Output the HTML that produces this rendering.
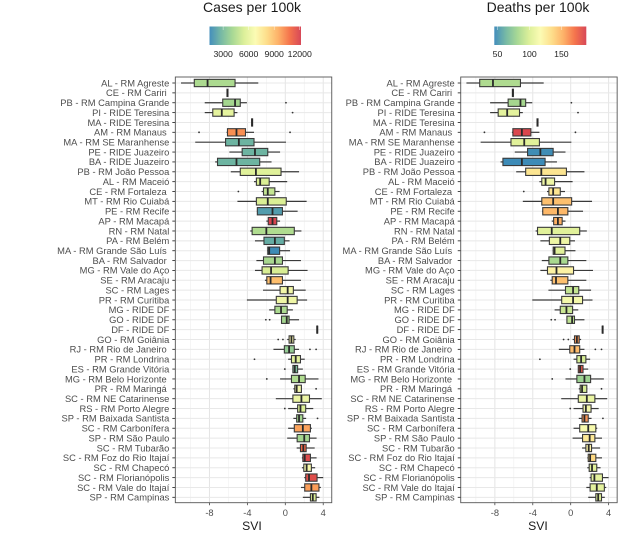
<!DOCTYPE html>
<html>
<head>
<meta charset="utf-8">
<style>
html,body{margin:0;padding:0;background:#fff;}
#chart{display:block;filter:blur(0.35px);}
text{font-family:"Liberation Sans",sans-serif;white-space:pre;}
</style>
</head>
<body>
<svg id="chart" xmlns="http://www.w3.org/2000/svg" width="630" height="536" viewBox="0 0 630 536"></svg>
<script>
const categories = ["AL - RM Agreste","CE - RM Cariri ","PB - RM Campina Grande","PI - RIDE Teresina","MA - RIDE Teresina","AM - RM Manaus ","MA - RM SE Maranhense","PE - RIDE Juazeiro","BA - RIDE Juazeiro","PB - RM João Pessoa","AL - RM Maceió","CE - RM Fortaleza ","MT - RM Rio Cuiabá","PE - RM Recife","AP - RM Macapá","RN - RM Natal","PA - RM Belém","MA - RM Grande São Luís ","BA - RM Salvador ","MG - RM Vale do Aço","SE - RM Aracaju","SC - RM Lages","PR - RM Curitiba","MG - RIDE DF","GO - RIDE DF","DF - RIDE DF","GO - RM Goiânia","RJ - RM Rio de Janeiro ","PR - RM Londrina","ES - RM Grande Vitória","MG - RM Belo Horizonte ","PR - RM Maringá ","SC - RM NE Catarinense","RS - RM Porto Alegre","SP - RM Baixada Santista","SC - RM Carbonífera","SP - RM São Paulo","SC - RM Tubarão","SC - RM Foz do Rio Itajaí","SC - RM Chapecó","SC - RM Florianópolis","SC - RM Vale do Itajaí","SP - RM Campinas"];
const whiskerLow = [-11,-6.15,-8.5,-8.5,-3.55,-6.2,-9.5,-5.9,-7.4,-5.75,-3.3,-2.5,-5.05,-3,-2,-3.7,-3.2,-1.9,-3.05,-3.2,-2.15,-2.35,-4.05,-1.7,-0.4,3.33,0.2,-1.25,0.3,0.8,-0.55,0.85,-1,0.3,0.85,0.3,0.2,1.2,1.75,1.75,2,1.65,1.85];
const q1 = [-9.6,-6.15,-6.6,-7.65,-3.55,-6.1,-6.3,-4.55,-7.15,-4.75,-3.05,-2.3,-3.05,-2.95,-1.8,-3.5,-2.25,-1.85,-2.3,-2.45,-1.95,-0.55,-0.95,-1.1,-0.4,3.33,0.4,-0.1,0.65,0.8,0.65,1,0.8,1.3,1.2,0.95,1.25,1.6,1.85,1.95,2.15,2.05,2.65];
const medians = [-8.2,-6.1,-5.3,-6.7,-3.5,-5.15,-4.9,-3.2,-5.15,-3.1,-2.65,-1.85,-1.85,-1.35,-1.35,-2,-1.1,-1.7,-1.1,-1.5,-1.55,0.25,0.25,-0.45,0.15,3.37,0.65,0.4,1.1,1,1.45,1.2,1.7,1.6,1.45,1.85,2,1.9,2.05,2.25,2.5,2.75,2.9];
const q3 = [-5.3,-6.05,-4.75,-5.4,-3.45,-4.2,-3.3,-1.85,-2.7,-0.45,-1.7,-1.1,0.1,-0.3,-0.9,0.95,-0.1,-0.6,-0.3,0.3,-0.3,0.85,1.25,0.2,0.4,3.41,0.9,0.95,1.6,1.3,2.1,1.7,2.55,2.15,1.85,2.65,2.55,2.2,2.65,2.75,3.35,3.55,3.25];
const whiskerHigh = [-2.85,-6.05,-4.05,-5.05,-3.45,-3.3,0.07,-0.55,-1.45,1.45,0.2,-0.6,2.25,1.3,-0.55,1.7,0.45,0.5,1.65,2.35,1.65,2.15,2.3,0.8,1.45,3.41,1.1,1.45,2.05,1.85,3.5,1.75,3.85,2.95,2.2,2.8,3.3,3.1,3.3,3.15,4,3.75,3.6];
const outliers = [[],[],[0.07],[0.77],[],[-9.1,0.5],[],[],[],[],[],[-4.95],[],[],[],[],[],[],[],[],[],[],[],[],[-2.05,-1.65],[],[-0.75,-0.25],[2.6,3.25],[-3.25],[-0.05],[-1.95],[3.25],[],[-0.05],[3.4],[],[],[],[],[],[],[],[]];
const casesValues = [4300,3800,4100,5900,5000,10100,2700,2700,2700,5700,5500,4900,5500,2000,12000,4400,2500,1500,4200,5400,9000,6400,6300,4300,4100,3000,6800,3700,5800,3100,4400,6400,6200,5500,4100,9700,4100,11000,11800,6600,11700,9800,5500];
const deathsValues = [85,85,82,105,100,186,103,47,46,130,110,130,146,149,153,103,110,103,83,122,146,92,113,94,90,100,160,148,98,180,79,98,108,112,160,115,128,122,136,103,105,105,103];
const xTicks = [-8,-4,0,4];
const xMinorTicks = [-10,-6,-2,2];
const casesLegendTicks = [3000,6000,9000,12000];
const deathsLegendTicks = [50,100,150];
const casesDomain = [1400,12150];
const deathsDomain = [45,189];
const palette = ["#3a88b8","#6fb5a0","#a3d68f","#d9ee94","#fbfbb0","#fddc85","#fdae61","#f46d43","#d53e4f"];

const svg = document.getElementById('chart');
const NS = 'http://www.w3.org/2000/svg';
const PANEL_TOP = 77, PANEL_BOTTOM = 502.7, ROW_0 = 83, ROW_STEP = 9.865, UNIT = 9.48, BOX_H = 7.3;

function mk(tag, attrs, parent) {
  const el = document.createElementNS(NS, tag);
  for (const k in attrs) el.setAttribute(k, attrs[k]);
  (parent || svg).appendChild(el);
  return el;
}
function hexToRgb(h) { return [1,3,5].map(i => parseInt(h.substr(i,2),16)); }
function colorAt(t) {
  t = Math.max(0, Math.min(1, t)) * (palette.length - 1);
  const i = Math.min(palette.length - 2, Math.floor(t)), f = t - i;
  const a = hexToRgb(palette[i]), b = hexToRgb(palette[i+1]);
  return 'rgb(' + a.map((v,j) => Math.round(v + (b[j]-v)*f)).join(',') + ')';
}
function yRow(i) { return ROW_0 + i * ROW_STEP; }

function drawPanel(cfg) {
  const xScale = v => cfg.zeroX + v * UNIT;
  const colorT = v => (v - cfg.domain[0]) / (cfg.domain[1] - cfg.domain[0]);
  const legendX = v => cfg.legendLeft + colorT(v) * cfg.legendWidth;

  const g = mk('g', {});
  
  

  const title = mk('text', {x: cfg.titleX, y: 12, 'text-anchor': 'middle', 'font-size': 14, fill: '#1a1a1a'}, g);
  
  
  title.textContent = cfg.title;

  const grad = mk('linearGradient', {id: cfg.id + '-grad', x1: 0, x2: 1, y1: 0, y2: 0}, g);
  palette.forEach((c, i) => {
    mk('stop', {offset: i / (palette.length - 1), 'stop-color': c}, grad);
  });
  const bar = mk('rect', {x: cfg.legendLeft, y: 26.5, width: cfg.legendWidth, height: 18.5, fill: 'url(#' + cfg.id + '-grad)', opacity: 0.95}, g);
  
  
  cfg.legendTicks.forEach(t => {
    const lab = mk('text', {x: legendX(t), y: 57, 'text-anchor': 'middle', 'font-size': 8.7, fill: '#222'}, g);
    
    
    lab.textContent = t;
    const tk1 = mk('line', {x1: legendX(t), x2: legendX(t), y1: 26.5, y2: 30, stroke: '#fff', 'stroke-width': 0.4}, g);
    
    
  });

  const left = xScale(-11.6), right = xScale(4.9);
  const bg = mk('rect', {x: left, y: PANEL_TOP, width: right - left, height: PANEL_BOTTOM - PANEL_TOP, fill: '#fff'}, g);
  
  

  xMinorTicks.forEach(v => {
    const l = mk('line', {x1: xScale(v), x2: xScale(v), y1: PANEL_TOP, y2: PANEL_BOTTOM, stroke: '#efefef', 'stroke-width': 0.6}, g);
    
    
  });
  xTicks.forEach(v => {
    const l = mk('line', {x1: xScale(v), x2: xScale(v), y1: PANEL_TOP, y2: PANEL_BOTTOM, stroke: '#e4e4e4', 'stroke-width': 1}, g);
    
    
  });

  categories.forEach((name, i) => {
    const y = yRow(i);
    const gl = mk('line', {x1: left, x2: right, y1: y, y2: y, stroke: '#e8e8e8', 'stroke-width': 1}, g);
    
    

    const tick = mk('line', {x1: left - 3, x2: left, y1: y, y2: y, stroke: '#333', 'stroke-width': 0.9}, g);
    
    

    const label = mk('text', {x: left - 6, y: y + 3.3, 'text-anchor': 'end', 'font-size': 9.35, fill: '#4d4d4d'}, g);
    
    
    label.textContent = name;

    const box = mk('g', {}, g);
    
    

    const wl = mk('line', {x1: xScale(whiskerLow[i]), x2: xScale(q1[i]), y1: y, y2: y, stroke: '#3a3a3a', 'stroke-width': 1.2}, box);
    
    
    const wh = mk('line', {x1: xScale(q3[i]), x2: xScale(whiskerHigh[i]), y1: y, y2: y, stroke: '#3a3a3a', 'stroke-width': 1.2}, box);
    
    

    const r = mk('rect', {x: xScale(q1[i]), y: y - BOX_H / 2, width: Math.max(0.2, xScale(q3[i]) - xScale(q1[i])), height: BOX_H, fill: colorAt(colorT(cfg.values[i])), stroke: '#3a3a3a', 'stroke-width': 1.1}, box);
    
    

    const m = mk('line', {x1: xScale(medians[i]), x2: xScale(medians[i]), y1: y - BOX_H / 2, y2: y + BOX_H / 2, stroke: '#2a2a2a', 'stroke-width': 1.8}, box);
    
    

    outliers[i].forEach(v => {
      const c = mk('circle', {cx: xScale(v), cy: y, r: 0.9, fill: '#333'}, box);
      
      
    });
  });

  const border = mk('rect', {x: left, y: PANEL_TOP, width: right - left, height: PANEL_BOTTOM - PANEL_TOP, fill: 'none', stroke: '#555', 'stroke-width': 0.9}, g);
  
  

  xTicks.forEach(v => {
    const t = mk('line', {x1: xScale(v), x2: xScale(v), y1: PANEL_BOTTOM, y2: PANEL_BOTTOM + 2.5, stroke: '#444', 'stroke-width': 0.8}, g);
    
    
    const lab = mk('text', {x: xScale(v), y: 516, 'text-anchor': 'middle', 'font-size': 9.3, fill: '#4d4d4d'}, g);
    
    
    lab.textContent = v;
  });

  const xt = mk('text', {x: cfg.titleX, y: 530, 'text-anchor': 'middle', 'font-size': 12.2, fill: '#1a1a1a'}, g);
  
  
  xt.textContent = 'SVI';
}

drawPanel({id: 'cases', title: 'Cases per 100k', titleX: 252, zeroX: 285.3, values: casesValues, domain: casesDomain, legendTicks: casesLegendTicks, legendLeft: 209.5, legendWidth: 91.5});
drawPanel({id: 'deaths', title: 'Deaths per 100k', titleX: 538, zeroX: 570.7, values: deathsValues, domain: deathsDomain, legendTicks: deathsLegendTicks, legendLeft: 494.3, legendWidth: 92});
</script>
</body>
</html>
